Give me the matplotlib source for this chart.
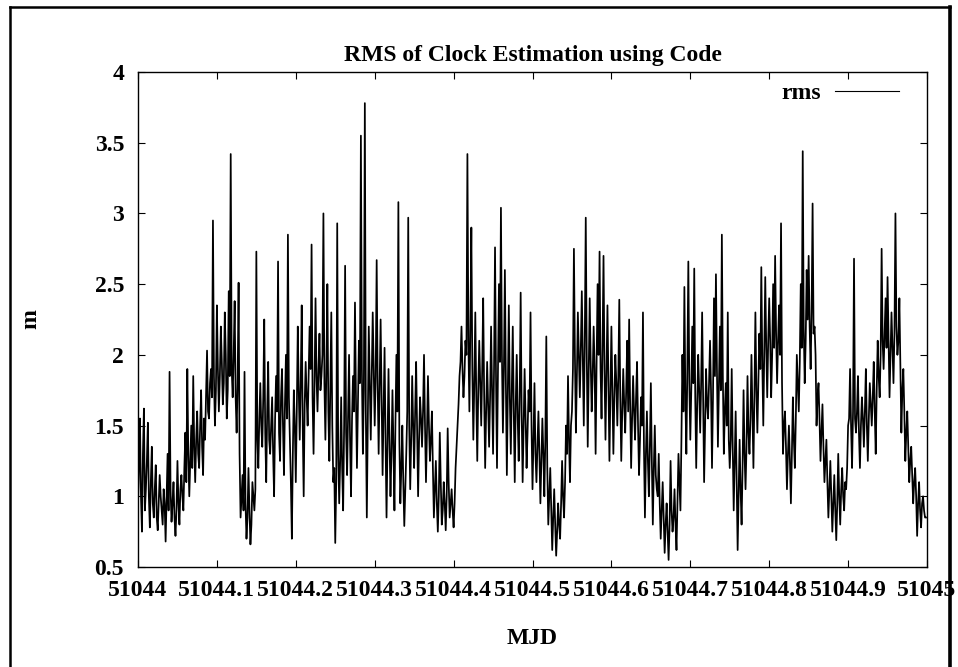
import numpy as np
import matplotlib
matplotlib.use("Agg")
import matplotlib.pyplot as plt
from matplotlib.lines import Line2D

# rms values, evenly spaced over MJD 51044 .. 51045
# (the peaks and troughs of the trace)
rms = [
    0.95, 1.55, 0.75, 1.62, 1.05, 1.52, 0.78, 1.35, 0.85, 1.22, 0.76, 1.15, 0.9, 1.05, 0.68, 1.3, 1.88, 0.82, 1.1, 0.72,
    1.25, 0.8, 1.15, 0.9, 1.45, 1.9, 1.0, 1.5, 1.85, 1.1, 1.6, 1.2, 1.75, 1.15, 1.4, 2.03, 1.55, 1.9, 2.95, 1.5,
    2.35, 1.6, 2.2, 1.65, 2.3, 1.55, 2.45, 3.42, 1.7, 2.38, 1.45, 2.51, 0.85, 1.15, 1.88, 0.7, 1.2, 0.66, 1.1, 0.9,
    2.73, 1.2, 1.8, 1.35, 2.25, 1.1, 1.95, 1.3, 1.7, 1.0, 1.85, 2.66, 1.25, 1.9, 1.15, 2.0, 2.85, 1.4, 0.7, 1.75,
    1.1, 2.2, 1.4, 2.35, 1.0, 1.95, 1.5, 2.2, 2.78, 1.3, 2.4, 1.6, 2.15, 1.85, 3.0, 1.4, 2.5, 1.25, 2.3, 1.1,
    0.67, 2.93, 0.95, 1.7, 0.9, 2.63, 1.15, 2.0, 1.0, 1.85, 2.37, 1.2, 2.1, 3.55, 1.3, 3.78, 0.85, 2.2, 1.4, 2.3,
    1.5, 2.67, 1.3, 2.25, 1.15, 2.05, 0.85, 1.9, 1.0, 1.75, 0.9, 2.0, 3.08, 0.95, 1.5, 0.79, 1.3, 2.97, 1.05, 1.85,
    1.2, 1.95, 1.0, 1.7, 1.35, 2.0, 1.1, 1.85, 1.25, 1.6, 0.85, 1.25, 0.75, 1.45, 0.8, 1.1, 0.76, 1.48, 0.85, 1.05,
    0.78, 1.2, 1.5, 1.85, 2.2, 1.7, 2.1, 3.42, 1.6, 2.9, 1.4, 2.3, 1.25, 2.1, 1.5, 2.4, 1.2, 1.95, 1.35, 2.2,
    1.3, 2.76, 1.2, 2.5, 3.04, 1.45, 2.6, 1.15, 2.35, 1.3, 2.2, 1.1, 2.0, 1.25, 2.44, 1.1, 1.9, 1.2, 1.75, 2.3,
    1.05, 1.8, 1.1, 1.6, 0.95, 1.55, 1.0, 2.13, 0.8, 1.2, 0.62, 1.05, 0.58, 0.95, 0.7, 1.25, 0.85, 1.5, 1.85, 1.1,
    1.6, 2.75, 1.45, 2.3, 1.7, 2.45, 1.5, 2.97, 1.35, 2.4, 1.6, 2.2, 1.3, 2.5, 2.73, 1.55, 2.7, 1.4, 2.35, 1.25,
    2.2, 1.3, 2.0, 1.5, 2.39, 1.25, 1.9, 1.45, 2.1, 2.25, 1.2, 1.85, 1.4, 1.95, 1.15, 1.7, 2.3, 0.85, 1.6, 1.0,
    1.8, 0.8, 1.5, 1.05, 1.3, 0.7, 1.1, 0.6, 0.95, 0.55, 1.25, 0.75, 1.05, 0.62, 1.3, 0.9, 2.0, 2.48, 1.3, 2.66,
    1.4, 2.2, 2.61, 1.2, 2.0, 1.45, 2.3, 1.1, 1.9, 1.55, 2.1, 1.2, 2.4, 2.57, 1.35, 2.2, 2.85, 1.3, 1.8, 2.3,
    1.2, 1.9, 0.9, 1.6, 0.62, 1.4, 0.8, 1.75, 1.05, 1.85, 1.3, 2.0, 1.2, 2.3, 1.45, 2.15, 2.62, 1.5, 2.55, 1.7,
    2.4, 1.7, 2.5, 2.7, 1.8, 2.35, 2.93, 1.3, 1.6, 1.05, 1.5, 0.95, 1.7, 1.2, 2.0, 1.6, 2.5, 3.44, 1.8, 2.6,
    2.7, 1.9, 3.07, 2.2, 1.5, 1.8, 1.25, 1.65, 1.1, 1.4, 0.85, 1.25, 0.75, 1.15, 0.69, 1.3, 0.8, 1.2, 0.9, 1.05,
    1.5, 1.9, 1.2, 2.68, 1.45, 1.85, 1.2, 1.7, 1.35, 1.9, 1.25, 1.8, 1.5, 1.95, 1.3, 2.1, 1.7, 2.75, 1.9, 2.4,
    2.55, 1.7, 2.3, 1.8, 3.0, 2.0, 2.4, 1.45, 1.9, 1.25, 1.6, 1.1, 1.35, 0.95, 1.2, 0.72, 1.1, 0.78, 1.0, 0.85,
]
rms_mid = [
    1.2, 1.0, 1.3, 0.9, 1.25, 1.0, 1.1, 0.95, 1.05, 0.85, 0.95, 1.0, 0.8, 0.95, 1.0, 0.9, 1.05, 0.95, 0.85, 0.9,
    0.95, 1.05, 1.0, 1.2, 1.1, 1.3, 1.25, 1.2, 1.35, 1.4, 1.3, 1.5, 1.35, 1.55, 1.7, 1.6, 1.8, 1.7, 1.85, 1.75,
    1.9, 1.85, 1.95, 1.8, 2.0, 1.75, 1.85, 1.9, 2.0, 1.7, 1.8, 1.3, 1.0, 0.9, 0.95, 0.85, 0.9, 0.8, 1.0, 1.05,
    1.4, 1.55, 1.5, 1.7, 1.45, 1.6, 1.4, 1.5, 1.3, 1.55, 1.6, 1.45, 1.7, 1.5, 1.65, 1.55, 1.7, 1.1, 1.3, 1.5,
    1.6, 1.75, 1.8, 1.5, 1.65, 1.7, 1.85, 1.9, 1.7, 1.8, 1.85, 1.9, 1.75, 2.0, 1.8, 1.9, 1.6, 1.75, 1.5, 1.2,
    1.1, 1.3, 1.25, 1.2, 1.5, 1.45, 1.6, 1.4, 1.55, 1.6, 1.7, 1.65, 1.8, 1.9, 1.75, 1.6, 1.55, 1.8, 1.85, 1.9,
    1.85, 1.8, 1.75, 1.7, 1.6, 1.4, 1.35, 1.4, 1.3, 1.35, 1.5, 1.6, 1.4, 1.2, 1.1, 1.05, 1.6, 1.5, 1.4, 1.5,
    1.6, 1.45, 1.4, 1.55, 1.6, 1.5, 1.45, 1.5, 1.4, 1.2, 1.05, 0.95, 1.0, 1.1, 0.9, 0.95, 1.0, 1.1, 0.95, 0.9,
    0.95, 1.35, 1.65, 1.95, 1.9, 1.85, 2.0, 2.1, 2.2, 1.9, 1.8, 1.7, 1.75, 1.8, 1.9, 1.7, 1.6, 1.65, 1.7, 1.75,
    1.9, 1.85, 1.9, 1.95, 2.0, 1.9, 1.8, 1.75, 1.7, 1.75, 1.6, 1.65, 1.55, 1.7, 1.6, 1.5, 1.55, 1.45, 1.6, 1.5,
    1.4, 1.3, 1.35, 1.3, 1.25, 1.3, 1.4, 1.2, 1.0, 0.9, 0.85, 0.8, 0.75, 0.8, 0.95, 1.0, 1.1, 1.3, 1.4, 1.5,
    1.9, 2.0, 1.85, 2.0, 2.05, 1.95, 2.1, 2.0, 1.9, 1.95, 1.85, 1.9, 1.95, 2.0, 1.9, 2.05, 1.9, 1.85, 1.8, 1.75,
    1.75, 1.7, 1.8, 1.85, 1.7, 1.6, 1.65, 1.75, 1.6, 1.65, 1.55, 1.6, 1.7, 1.5, 1.4, 1.5, 1.35, 1.3, 1.25, 1.35,
    1.25, 1.2, 1.15, 1.0, 0.95, 0.9, 0.85, 0.8, 0.75, 0.8, 0.9, 0.85, 0.8, 0.95, 1.1, 1.4, 1.6, 1.7, 1.9, 1.8,
    1.75, 1.8, 1.7, 1.65, 1.75, 1.8, 1.7, 1.5, 1.65, 1.8, 1.75, 1.7, 1.85, 1.9, 1.8, 1.75, 1.85, 1.6, 1.5, 1.4,
    1.4, 1.35, 1.25, 1.1, 1.0, 1.05, 1.2, 1.3, 1.35, 1.45, 1.55, 1.6, 1.7, 1.75, 1.8, 1.9, 1.95, 2.0, 2.05, 2.1,
    2.1, 2.0, 2.05, 2.15, 2.1, 2.0, 1.8, 1.5, 1.35, 1.3, 1.25, 1.3, 1.4, 1.55, 1.8, 1.95, 2.05, 2.2, 2.1, 2.25,
    2.2, 2.3, 2.15, 2.0, 1.7, 1.55, 1.45, 1.35, 1.25, 1.1, 1.05, 1.0, 0.95, 0.9, 0.95, 1.0, 1.05, 1.0, 1.1, 1.2,
    1.55, 1.5, 1.6, 1.55, 1.6, 1.45, 1.5, 1.55, 1.6, 1.5, 1.55, 1.65, 1.7, 1.6, 1.75, 1.85, 2.0, 2.1, 2.15, 2.05,
    2.1, 2.0, 2.05, 2.15, 2.2, 2.1, 1.9, 1.75, 1.6, 1.45, 1.35, 1.25, 1.15, 1.1, 1.0, 0.95, 0.9, 0.95, 0.9, 0.85,
]

step = 1.0 / len(rms)
mjd_a = 51044 + np.arange(len(rms)) * step
mjd_b = mjd_a + step / 2
mjd = np.empty(2 * len(rms))
vals = np.empty(2 * len(rms))
mjd[0::2], mjd[1::2] = mjd_a, mjd_b
vals[0::2], vals[1::2] = rms, rms_mid

xticks = [51044, 51044.1, 51044.2, 51044.3, 51044.4, 51044.5, 51044.6, 51044.7, 51044.8, 51044.9, 51045]
xlabels = ["51044", "51044.1", "51044.2", "51044.3", "51044.4", "51044.5",
           "51044.6", "51044.7", "51044.8", "51044.9", "51045"]
yticks = [0.5, 1, 1.5, 2, 2.5, 3, 3.5, 4]
ylabels = ["0.5", "1", "1.5", "2", "2.5", "3", "3.5", "4"]

plt.rcParams['font.family'] = ['Liberation Serif', 'DejaVu Serif']
plt.rcParams['font.weight'] = 'bold'
fs = 17

W, H = 958, 667
fig = plt.figure(figsize=(W / 100, H / 100), dpi=100)
ax = fig.add_axes([138 / W, 1 - 567 / H, (927 - 138) / W, (567 - 72) / H])

ax.plot(mjd, vals, color='black', linewidth=1.25, label='rms')
ax.set_xlim(51044, 51045)
ax.set_ylim(0.5, 4)
ax.set_xticks(xticks)
ax.set_xticklabels(xlabels)
ax.set_yticks(yticks)
ax.set_yticklabels(ylabels)
ax.tick_params(direction='in', length=5, width=0.8, top=True, right=True, labelsize=fs)
ax.tick_params(axis='y', pad=10)
ax.tick_params(axis='x', pad=9)
for s in ax.spines.values():
    s.set_linewidth(1.0)

ax.set_title('RMS of Clock Estimation using Code', fontsize=fs, fontweight='bold', pad=8)
ax.set_xlabel('MJD', fontsize=fs, fontweight='bold', labelpad=20)
ax.set_ylabel('m', fontsize=fs, fontweight='bold', labelpad=38)

leg = ax.legend(loc='upper right', bbox_to_anchor=(0.9645, 0.978), frameon=False,
                markerfirst=False, handlelength=2.7, handletextpad=0.6,
                borderpad=0, borderaxespad=0, prop={'size': fs, 'weight': 'bold'})
for h in leg.get_lines():
    h.set_linewidth(0.8)

# outer frame of the page
def px(x, y):
    return x / W, 1 - y / H

for (xa, ya), (xb, yb), lw in [((10, 7), (10, 667), 1.8),
                               ((10, 7), (950, 7), 1.8),
                               ((950, 7), (950, 667), 2.6)]:
    p0, p1 = px(xa, ya), px(xb, yb)
    fig.add_artist(Line2D([p0[0], p1[0]], [p0[1], p1[1]], color='black', linewidth=lw))

fig.savefig('out.png', dpi=100)
